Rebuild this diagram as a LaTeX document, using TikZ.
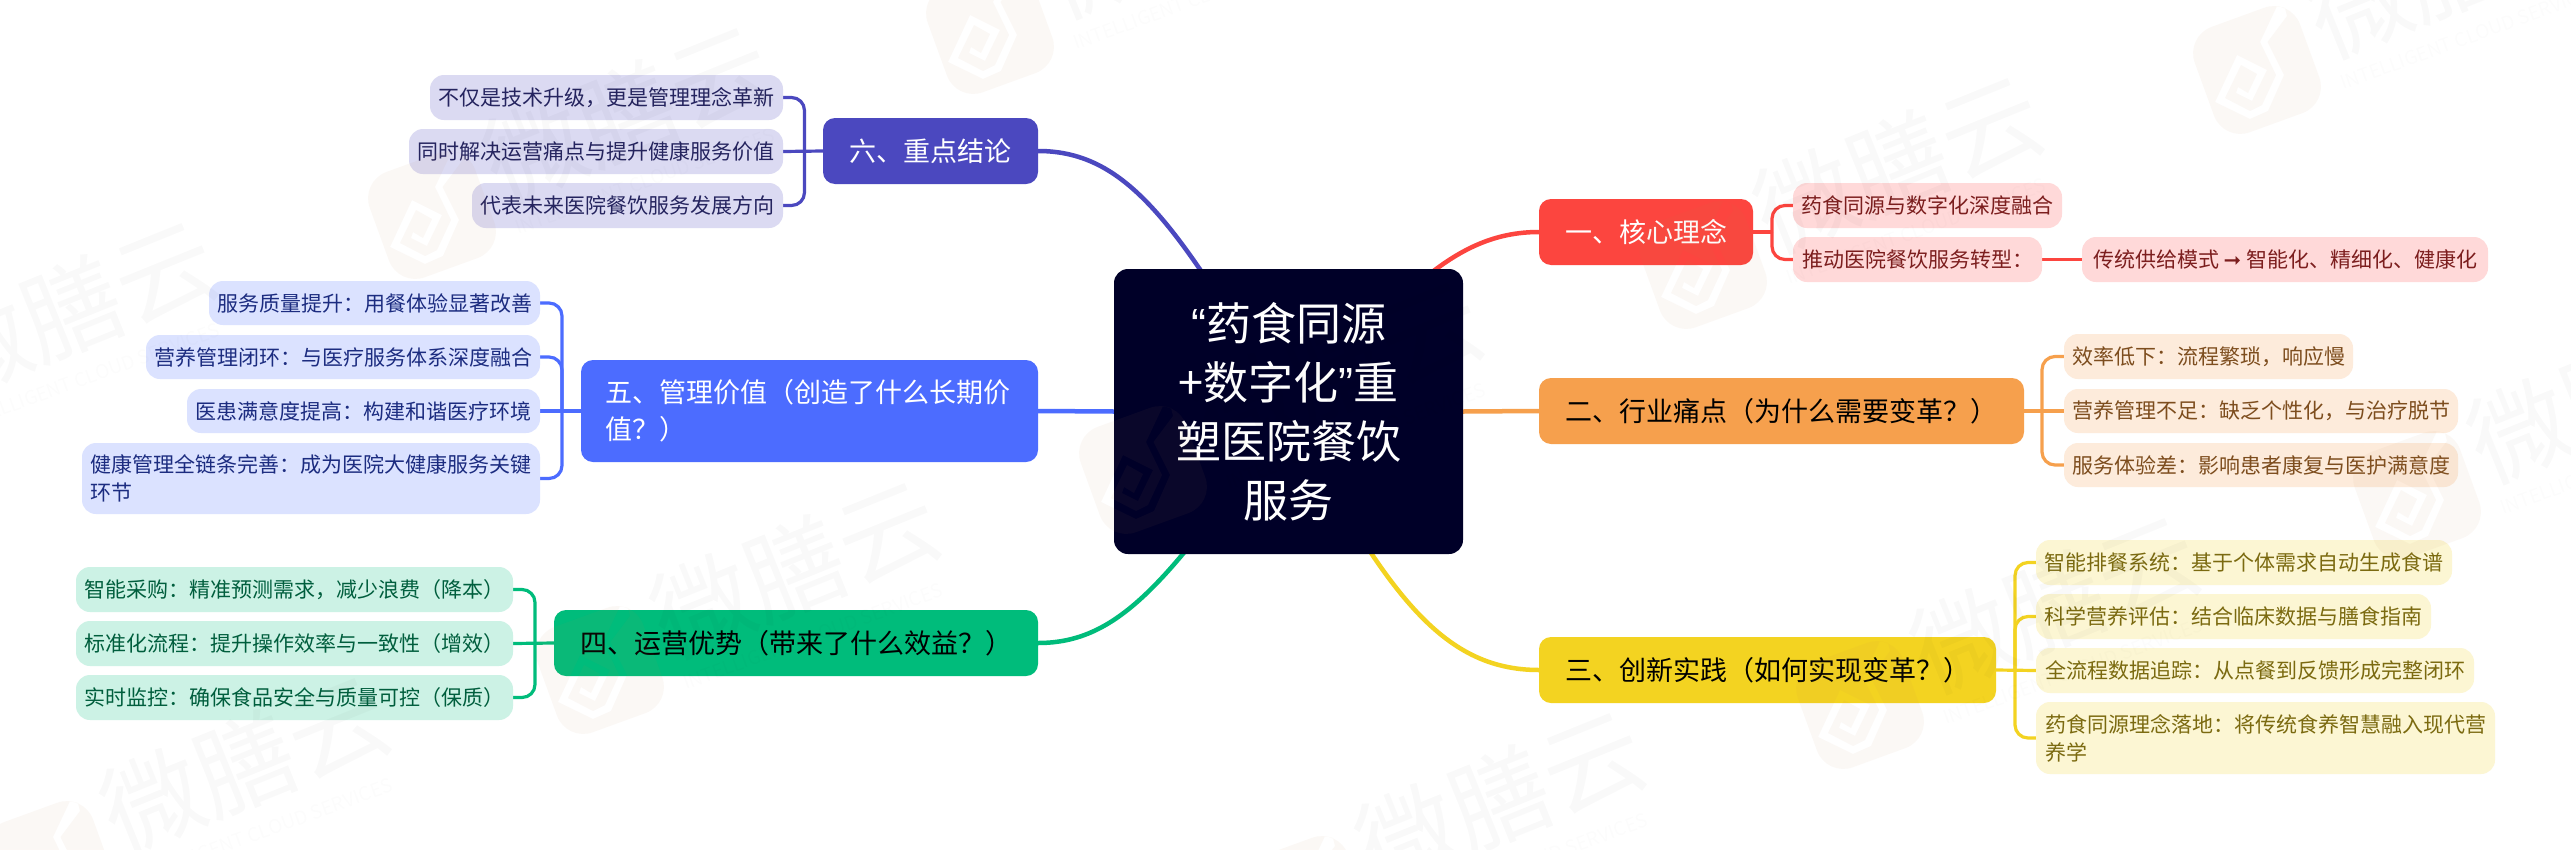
\documentclass[tikz,border=0pt]{standalone}
\usepackage{fontspec}
\setmainfont{Noto Sans CJK SC}
\newfontfamily\symf{DejaVu Sans}
\newfontfamily\latf{Liberation Sans}
\usetikzlibrary{backgrounds}
\definecolor{cRoot}{HTML}{000028}
\definecolor{cRed}{HTML}{FC453F}
\definecolor{cOrange}{HTML}{F6A04D}
\definecolor{cYellow}{HTML}{F3D321}
\definecolor{cGreen}{HTML}{00BC7B}
\definecolor{cBlue}{HTML}{4C6CFF}
\definecolor{cIndigo}{HTML}{4B48BF}
\definecolor{lRed}{HTML}{FFD9D9}
\definecolor{lOrange}{HTML}{FDEBDB}
\definecolor{lYellow}{HTML}{FCF6D3}
\definecolor{lGreen}{HTML}{CCF2E5}
\definecolor{lBlue}{HTML}{DBE2FF}
\definecolor{lIndigo}{HTML}{DBDAF2}
\definecolor{tRed}{HTML}{7C1E1E}
\definecolor{tOrange}{HTML}{7D4D1E}
\definecolor{tYellow}{HTML}{7B6A10}
\definecolor{tGreen}{HTML}{005E3D}
\definecolor{tBlue}{HTML}{1C2C80}
\definecolor{tIndigo}{HTML}{25245F}
\definecolor{wmTan}{HTML}{C08850}
\newcommand\fsMain{\fontsize{27pt}{37pt}\selectfont}
\newcommand\fsSub{\fontsize{21pt}{28pt}\selectfont}
\newcommand\fsRoot{\fontsize{45pt}{59pt}\selectfont}
\newcommand\bx[7]{\node[#1,minimum width={(#5-#3)*1pt},minimum height={(#6-#4)*1pt}] (#2) at ({(#3+#5)/2},{(#4+#6)/2}) {#7};}
\tikzset{
  box/.style={inner sep=0pt,outer sep=0pt,draw=none},
  mainbox/.style={box,rounded corners=12pt,font=\fsMain},
  subbox/.style={box,rounded corners=14pt,font=\fsSub},
  rootbox/.style={box,rounded corners=14pt,font=\fsRoot,fill=cRoot,text=white,align=center},
  stem/.style={line width=4.5pt},
  brk/.style={line width=3.2pt,rounded corners=13pt},
  mRed/.style={mainbox,fill=cRed,text=white},
  mOrange/.style={mainbox,fill=cOrange,text=black},
  mYellow/.style={mainbox,fill=cYellow,text=black},
  mGreen/.style={mainbox,fill=cGreen,text=black},
  mBlue/.style={mainbox,fill=cBlue,text=white},
  mIndigo/.style={mainbox,fill=cIndigo,text=white},
  sRed/.style={subbox,fill=lRed,text=tRed},
  sOrange/.style={subbox,fill=lOrange,text=tOrange},
  sYellow/.style={subbox,fill=lYellow,text=tYellow},
  sGreen/.style={subbox,fill=lGreen,text=tGreen},
  sBlue/.style={subbox,fill=lBlue,text=tBlue},
  sIndigo/.style={subbox,fill=lIndigo,text=tIndigo},
  wmlogo/.style={fill=wmTan,fill opacity=.055,even odd rule},
  wmtext/.style={text=black,text opacity=.022,rotate=22,anchor=base west,inner sep=0pt},
  wmsmall/.style={text=black,text opacity=.012,rotate=20,anchor=base west,inner sep=0pt},
}
\begin{document}
\begin{tikzpicture}[x=1pt,y=-1pt]
\useasboundingbox (0,0) rectangle (2571,849);
\begin{scope}[on background layer]
\fill[white] (0,0) rectangle (2571,849);
\end{scope}
% root
\bx{rootbox}{root}{1114}{269}{1463}{554}{{\latf “}药食同源\\+数字化{\latf ”}重\\塑医院餐饮\\服务}
% main branches
\bx{mRed}{n1}{1539}{199}{1753}{265}{一、核心理念}
\bx{mOrange}{n2}{1539}{378}{2024}{444}{二、行业痛点（为什么需要变革？）}
\bx{mYellow}{n3}{1539}{637}{1996}{703}{三、创新实践（如何实现变革？）}
\bx{mGreen}{n4}{554}{610}{1038}{676}{四、运营优势（带来了什么效益？）}
\bx{mBlue,text width=408pt,align=left}{n5}{581}{360}{1038}{462}{五、管理价值（创造了什么长期价\\值？）}
\bx{mIndigo}{n6}{823}{118}{1038}{184}{六、重点结论}
% red subs
\bx{sRed}{a1}{1793}{183}{2062}{228}{药食同源与数字化深度融合}
\bx{sRed}{a2}{1793}{237}{2042}{282}{推动医院餐饮服务转型：}
\bx{sRed}{a3}{2082}{237}{2488}{282}{传统供给模式 {\symf ➞} 智能化、精细化、健康化}
% orange subs
\bx{sOrange}{b1}{2064}{334}{2353}{379}{效率低下：流程繁琐，响应慢}
\bx{sOrange}{b2}{2064}{389}{2458}{433}{营养管理不足：缺乏个性化，与治疗脱节}
\bx{sOrange}{b3}{2064}{443}{2458}{487}{服务体验差：影响患者康复与医护满意度}
% yellow subs
\bx{sYellow}{c1}{2036}{540}{2452}{585}{智能排餐系统：基于个体需求自动生成食谱}
\bx{sYellow}{c2}{2036}{594}{2431}{639}{科学营养评估：结合临床数据与膳食指南}
\bx{sYellow}{c3}{2036}{648}{2474}{693}{全流程数据追踪：从点餐到反馈形成完整闭环}
\bx{sYellow,text width=441pt,align=left}{c4}{2036}{702}{2495}{774}{药食同源理念落地：将传统食养智慧融入现代营\\养学}
% green subs
\bx{sGreen}{d1}{76}{567}{513}{612}{智能采购：精准预测需求，减少浪费（降本）}
\bx{sGreen}{d2}{76}{621}{513}{666}{标准化流程：提升操作效率与一致性（增效）}
\bx{sGreen}{d3}{76}{675}{513}{720}{实时监控：确保食品安全与质量可控（保质）}
% blue subs
\bx{sBlue}{e1}{209}{281}{540}{325}{服务质量提升：用餐体验显著改善}
\bx{sBlue}{e2}{146}{335}{540}{379}{营养管理闭环：与医疗服务体系深度融合}
\bx{sBlue}{e3}{187}{389}{540}{433}{医患满意度提高：构建和谐医疗环境}
\bx{sBlue,text width=441pt,align=left}{e4}{82}{443}{540}{514}{健康管理全链条完善：成为医院大健康服务关键\\环节}
% indigo subs
\bx{sIndigo}{f1}{430}{75}{783}{120}{不仅是技术升级，更是管理理念革新}
\bx{sIndigo}{f2}{409}{129}{783}{174}{同时解决运营痛点与提升健康服务价值}
\bx{sIndigo}{f3}{472}{183}{783}{228}{代表未来医院餐饮服务发展方向}
% bracket junctions
\coordinate (ja) at (1772,232);
\coordinate (jb) at (2042,411);
\coordinate (jc) at (2015,670);
\coordinate (jd) at (535,643);
\coordinate (je) at (562,411);
\coordinate (jf) at (804.5,151);
\begin{scope}[on background layer]
% root to main branches
\draw[stem,cRed] (n1.west) .. controls (1450,232) and (1400,300) .. (root.center);
\draw[stem,cOrange] (root.east) -- (n2.west);
\draw[stem,cYellow] (n3.west) .. controls (1440,670) and (1385,590) .. (root.center);
\draw[stem,cGreen] (n4.east) .. controls (1120,643) and (1170,580) .. (root.center);
\draw[stem,cBlue] (root.west) -- (n5.east);
\draw[stem,cIndigo] (n6.east) .. controls (1130,151) and (1180,230) .. (root.center);
% red
\draw[brk,cRed] (n1.east) -- (ja);
\draw[brk,cRed] (ja) |- (a1.west);
\draw[brk,cRed] (ja) |- (a2.west);
\draw[brk,cRed] (a2.east) -- (a3.west);
% orange
\draw[brk,cOrange] (n2.east) -- (b2.west);
\draw[brk,cOrange] (jb) |- (b1.west);
\draw[brk,cOrange] (jb) |- (b3.west);
% yellow
\draw[brk,cYellow] (n3.east) -- (c3.west);
\draw[brk,cYellow] (jc) |- (c1.west);
\draw[brk,cYellow] (jc) |- (c2.west);
\draw[brk,cYellow] (jc) |- (c4.west);
% green
\draw[brk,cGreen] (n4.west) -- (d2.east);
\draw[brk,cGreen] (jd) |- (d1.east);
\draw[brk,cGreen] (jd) |- (d3.east);
% blue
\draw[brk,cBlue] (n5.west) -- (e3.east);
\draw[brk,cBlue] (je) |- (e1.east);
\draw[brk,cBlue] (je) |- (e2.east);
\draw[brk,cBlue] (je) |- (e4.east);
% indigo
\draw[brk,cIndigo] (n6.west) -- (f2.east);
\draw[brk,cIndigo] (jf) |- (f1.east);
\draw[brk,cIndigo] (jf) |- (f3.east);
\end{scope}
% watermark tiles
\foreach \wx/\wy in {990/30,2257/70,432/215,1703/265,-123/410,1143/470,2417/495,600/670,1860/705,50/865,1305/900}{
  \begin{scope}[shift={(\wx,\wy)}]
  \path[wmlogo] [rounded corners=28pt] (-71.8,-33.5) -- (33.5,-71.8) -- (71.8,33.5) -- (-33.5,71.8) -- cycle
    [sharp corners] (30,-54) -- (10.5,-28) -- (27,5) -- (11,41) -- (-7,49) -- (-42,32) -- (-20,-15) -- (10,0) -- (-5,31) -- (-21,23)
    -- (-19,17) -- (-9,23) -- (0,4) -- (-16,-5) -- (-32,28) -- (-7,41) -- (5,35) -- (19,5) -- (3,-28) -- (20,-64) -- (28,-62) -- cycle;
  \node[wmtext,font=\fontsize{100pt}{100pt}\selectfont] (wm\wx) at (70,-10) {微膳云};
  \node[wmsmall,font=\fontsize{19pt}{19pt}\selectfont] (ws\wx) at (86,20) {INTELLIGENT CLOUD SERVICES};
  \end{scope}
}
\end{tikzpicture}
\end{document}
